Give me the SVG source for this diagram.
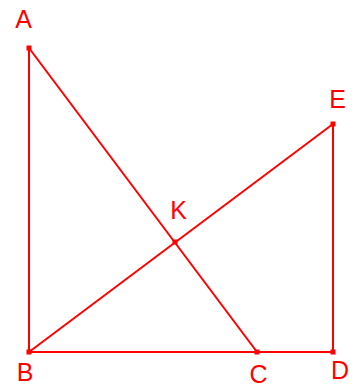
<svg xmlns="http://www.w3.org/2000/svg" width="355" height="387" viewBox="0 0 355 387">
<style>
.l{stroke:#ff0000;stroke-width:2;fill:none}
.p{fill:#ff0000}
.t{font-family:"Liberation Sans",Arial,sans-serif;font-size:25px;fill:#ff0000;text-anchor:middle}
</style>
<rect width="355" height="387" fill="#ffffff"/>
<g id="connectors">
<line class="l" x1="29" y1="48" x2="29" y2="352"/>
<line class="l" x1="29" y1="48" x2="257" y2="352"/>
<line class="l" x1="29" y1="352" x2="333" y2="352"/>
<line class="l" x1="29" y1="352" x2="333" y2="124"/>
<line class="l" x1="333" y1="124" x2="333" y2="352"/>
</g>
<g id="A"><rect class="p" x="26.5" y="45.5" width="5" height="5"/><text class="t" x="23.5" y="28">A</text></g>
<g id="B"><rect class="p" x="26.5" y="349.5" width="5" height="5"/><text class="t" x="25" y="381">B</text></g>
<g id="C"><rect class="p" x="254.5" y="349.5" width="5" height="5"/><text class="t" x="258.5" y="383">C</text></g>
<g id="D"><rect class="p" x="330.5" y="349.5" width="5" height="5"/><text class="t" x="340" y="379">D</text></g>
<g id="E"><rect class="p" x="330.5" y="121.5" width="5" height="5"/><text class="t" x="337.5" y="108">E</text></g>
<g id="K"><rect class="p" x="172.5" y="239.5" width="5" height="5"/><text class="t" x="178.5" y="219">K</text></g>
</svg>
